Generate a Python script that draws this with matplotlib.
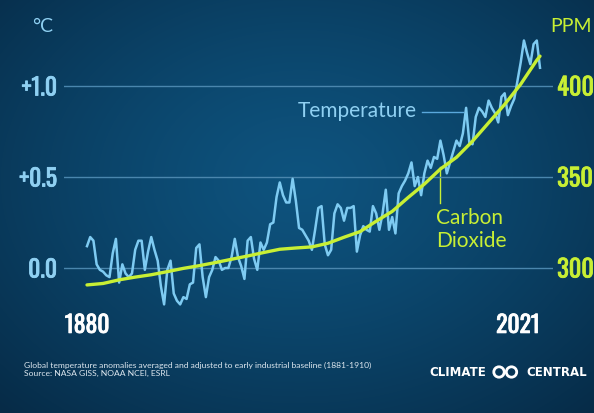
import numpy as np
import matplotlib
matplotlib.use('Agg')
import matplotlib.pyplot as plt
import matplotlib.patheffects as pe
from matplotlib.patches import Circle

# ---------------- data ----------------
years = list(range(1880, 2022))
temp_anomaly = [
    0.12, 0.17, 0.15, 0.02, -0.01, -0.02, -0.04, -0.05, 0.08, 0.16,   # 1880s
    -0.08, 0.02, -0.03, -0.05, -0.03, 0.10, 0.15, 0.15, -0.01, 0.09,  # 1890s
    0.17, 0.10, 0.04, -0.10, -0.20, -0.01, 0.04, -0.14, -0.18, -0.20, # 1900s
    -0.16, -0.17, -0.09, -0.08, 0.11, 0.13, -0.05, -0.16, -0.05, -0.01, # 1910s
    0.06, 0.04, -0.01, 0.00, 0.00, 0.06, 0.16, 0.06, 0.01, -0.06,     # 1920s
    0.15, 0.17, 0.05, -0.01, 0.14, 0.10, 0.14, 0.24, 0.25, 0.39,      # 1930s
    0.47, 0.40, 0.36, 0.36, 0.49, 0.37, 0.22, 0.21, 0.18, 0.15,       # 1940s
    0.10, 0.21, 0.33, 0.34, 0.13, 0.07, 0.10, 0.30, 0.35, 0.33,       # 1950s
    0.26, 0.33, 0.33, 0.34, 0.09, 0.18, 0.23, 0.21, 0.20, 0.34,       # 1960s
    0.30, 0.21, 0.30, 0.43, 0.21, 0.28, 0.19, 0.41, 0.45, 0.48,       # 1970s
    0.52, 0.58, 0.45, 0.50, 0.40, 0.52, 0.59, 0.55, 0.61, 0.60,       # 1980s
    0.70, 0.62, 0.52, 0.58, 0.64, 0.70, 0.67, 0.74, 0.88, 0.69,       # 1990s
    0.68, 0.83, 0.88, 0.86, 0.83, 0.92, 0.88, 0.85, 0.80, 0.94,       # 2000s
    0.96, 0.84, 0.89, 0.93, 1.03, 1.13, 1.25, 1.18, 1.12, 1.23,       # 2010s
    1.25, 1.10,                                                       # 2020s
]
co2_years = [1880, 1885, 1890, 1895, 1900, 1905, 1910, 1915, 1920, 1925,
             1930, 1935, 1940, 1945, 1950, 1955, 1960, 1965, 1970, 1975,
             1980, 1985, 1990, 1995, 2000, 2005, 2010, 2015, 2020, 2021]
co2_ppm = [290.7, 291.5, 293.5, 295.0, 296.3, 298.0, 299.8, 301.3, 303.0, 304.8,
           306.6, 308.5, 310.3, 311.0, 311.6, 313.6, 316.9, 320.0, 325.7, 331.1,
           338.8, 346.1, 354.4, 360.8, 369.7, 379.8, 389.9, 401.0, 414.2, 416.4]
temp_ticks = [0.0, 0.5, 1.0]
temp_tick_labels = ['0.0', '+0.5', '+1.0']
ppm_ticks = [300, 350, 400]
ppm_tick_labels = ['300', '350', '400']
year_ticks = [1880, 2021]
year_tick_labels = ['1880', '2021']

# ---------------- style ----------------
W, H = 594, 413
TEMP_C = '#7ecbf2'
TEMP_TXT = '#8fd0f2'
CO2_C = '#c8ef34'
GRID_C = '#4a86ad'
NARROW = ['Oswald', 'Barlow Condensed', 'Archivo Narrow', 'DejaVu Sans']
SANS = ['Lato', 'DejaVu Sans']

fig = plt.figure(figsize=(W / 100, H / 100), dpi=100)

# background gradient
bg = fig.add_axes([0, 0, 1, 1], zorder=0)
bg.axis('off')
yy, xx = np.mgrid[0:H, 0:W]
d = np.sqrt(((xx - 300) / 430.0) ** 2 + ((yy - 180) / 320.0) ** 2)
t = np.clip(d, 0, 1) ** 1.3
inner = np.array([0x0e, 0x53, 0x7e]) / 255
outer = np.array([0x06, 0x2b, 0x47]) / 255
img = inner * (1 - t[..., None]) + outer * t[..., None]
bg.imshow(img, extent=[0, W, H, 0], aspect='auto', interpolation='bilinear')
bg.set_xlim(0, W)
bg.set_ylim(H, 0)

# main axes (pixel frame of the plot area)
L, R, T, B = 64, 553, 20, 300
ax = fig.add_axes([L / W, 1 - B / H, (R - L) / W, (B - T) / H], zorder=2)
ax.patch.set_alpha(0)


def px2year(x):
    return 1880 + (x - 87) * 141 / 453


def py2temp(y):
    return (268 - y) / 182


def bold_labels(labels, color, size):
    for lab in labels:
        lab.set_fontfamily(NARROW)
        lab.set_fontsize(size)
        lab.set_path_effects([pe.withStroke(linewidth=0.6, foreground=color)])


ax.set_xlim(px2year(L), px2year(R))
ax.set_ylim(py2temp(B), py2temp(T))
for s in ax.spines.values():
    s.set_visible(False)
ax.set_yticks(temp_ticks)
ax.set_yticklabels(temp_tick_labels)
ax.set_xticks(year_ticks)
ax.set_xticklabels(year_tick_labels)
ax.tick_params(axis='y', length=0, pad=5, labelcolor=TEMP_TXT)
ax.tick_params(axis='x', length=0, pad=10, labelcolor='white')
bold_labels(ax.get_yticklabels(), TEMP_TXT, 17)
bold_labels(ax.get_xticklabels(), 'white', 17)
ax.get_xticklabels()[0].set_ha('center')
ax.get_xticklabels()[1].set_ha('right')
ax.grid(axis='y', color=GRID_C, lw=1.0)
ax.grid(axis='x', visible=False)
ax.set_axisbelow(True)

ax.plot(years, temp_anomaly, color=TEMP_C, lw=1.8, clip_on=False,
        solid_joinstyle='round', zorder=3)

ax2 = ax.twinx()
lo, hi = ax.get_ylim()
ax2.set_ylim(300 + 100 * lo, 300 + 100 * hi)
for s in ax2.spines.values():
    s.set_visible(False)
ax2.set_yticks(ppm_ticks)
ax2.set_yticklabels(ppm_tick_labels)
ax2.tick_params(axis='y', length=0, pad=3, labelcolor=CO2_C)
bold_labels(ax2.get_yticklabels(), CO2_C, 17.5)
ax2.plot(co2_years, co2_ppm, color=CO2_C, lw=2.4, clip_on=False,
         solid_capstyle='round', zorder=4)

# ---------------- annotations (pixel coordinates) ----------------
bg.text(53, 27, '°C', color=TEMP_TXT, fontsize=14, family=SANS,
        ha='right', va='center')
bg.text(592, 27, 'PPM', color=CO2_C, fontsize=14, family=SANS,
        ha='right', va='center')

bg.text(417, 111, 'Temperature', color=TEMP_TXT, fontsize=15, family=SANS,
        ha='right', va='center')
bg.plot([422, 463], [112, 112], color='#5aa8dc', lw=1.0)

bg.text(436, 218, 'Carbon', color=CO2_C, fontsize=15, family=SANS,
        ha='left', va='center')
bg.text(436, 241, 'Dioxide', color=CO2_C, fontsize=15, family=SANS,
        ha='left', va='center')
bg.plot([440, 440], [167, 203], color=CO2_C, lw=1.0)

bg.text(24, 365, 'Global temperature anomalies averaged and adjusted to early '
        'industrial baseline (1881-1910)', color='#dde7ef', fontsize=6.1,
        family=SANS, ha='left', va='center')
bg.text(24, 373.5, 'Source: NASA GISS, NOAA NCEI, ESRL', color='#dde7ef',
        fontsize=6.1, family=SANS, ha='left', va='center')

bg.text(429, 372, 'CLIMATE', color='white', fontsize=8.5, fontweight='bold',
        family=['DejaVu Sans'], ha='left', va='center')
bg.text(587, 372, 'CENTRAL', color='white', fontsize=8.5, fontweight='bold',
        family=['DejaVu Sans'], ha='right', va='center')
bg.add_patch(Circle((499, 372), 5.2, fill=False, ec='white', lw=2.0))
bg.add_patch(Circle((511.5, 372), 5.2, fill=False, ec='white', lw=2.0))

fig.savefig('out.png', dpi=100)
